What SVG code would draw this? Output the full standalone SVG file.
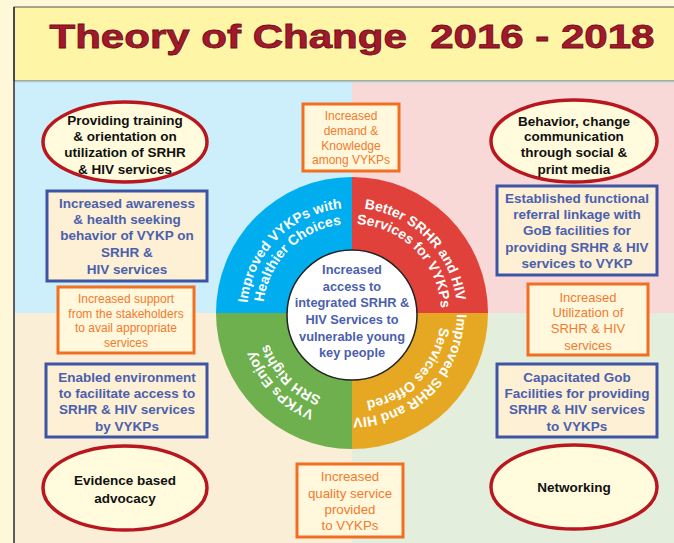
<svg xmlns="http://www.w3.org/2000/svg" width="674" height="543" viewBox="0 0 674 543">
<defs>
<style>
.ell{fill:#fffbdc;stroke:#b8171f;stroke-width:3.5}
.bbox{fill:#fdf0d4;stroke:#3e55a5;stroke-width:3}
.obox{fill:#fff8dc;stroke:#f26f21;stroke-width:3}
.tk{font-family:"Liberation Sans",Arial,sans-serif;font-weight:bold;font-size:13.5px;fill:#111;text-anchor:middle}
.tb{font-family:"Liberation Sans",Arial,sans-serif;font-weight:bold;font-size:13.5px;fill:#4b60ad;text-anchor:middle}
.to{font-family:"Liberation Sans",Arial,sans-serif;font-size:12px;fill:#f47a2e;text-anchor:middle}
.tw{font-family:"Liberation Sans",Arial,sans-serif;font-weight:bold;font-size:14px;fill:#fff;text-anchor:middle}
</style>
<path id="a1TL" d="M248.6,331.23 A105,105 0 0 1 370.23,209.6"/>
<path id="a2TL" d="M264.35,328.45 A89,89 0 0 1 367.45,225.35"/>
<path id="a1TR" d="M333.77,209.6 A105,105 0 0 1 455.4,331.23"/>
<path id="a2TR" d="M336.55,225.35 A89,89 0 0 1 439.65,328.45"/>
<path id="a1BR" d="M455.4,294.77 A105,105 0 0 1 333.77,416.4"/>
<path id="a2BR" d="M439.65,297.55 A89,89 0 0 1 336.55,400.65"/>
<path id="a1BL" d="M370.23,416.4 A105,105 0 0 1 248.6,294.77"/>
<path id="a2BL" d="M367.45,400.65 A89,89 0 0 1 264.35,297.55"/>
</defs>
<rect x="0" y="0" width="674" height="543" fill="#fef8d8"/>
<g id="background">
<rect x="14" y="7" width="670" height="74" fill="#fef5a6" stroke="#555" stroke-width="1"/>
<rect x="14" y="81" width="338" height="232" fill="#cdeefb"/>
<rect x="352" y="81" width="330" height="232" fill="#f9d8d8"/>
<rect x="14" y="313" width="338" height="240" fill="#faeed6"/>
<rect x="352" y="313" width="330" height="240" fill="#e3efdc"/>
<line x1="14" y1="81.5" x2="674" y2="81.5" stroke="#a9c7d3" stroke-width="1.5"/>
<line x1="14" y1="7" x2="14" y2="543" stroke="#2b2b3a" stroke-width="1.5"/>
</g>
<g id="title">
<text x="352" y="48" text-anchor="middle" textLength="605" lengthAdjust="spacingAndGlyphs" font-family="'Liberation Sans',Arial,sans-serif" font-weight="bold" font-size="33" fill="#a3192c" stroke="#6e0f1c" stroke-width="0.8" style="white-space:pre">Theory of Change  2016 - 2018</text>
</g>
<g id="wheel">
<path d="M352,313 L216,313 A136,136 0 0 1 352,177 Z" fill="#00adee"/>
<path d="M352,313 L352,177 A136,136 0 0 1 488,313 Z" fill="#e0413a"/>
<path d="M352,313 L488,313 A136,136 0 0 1 352,449 Z" fill="#e6a823"/>
<path d="M352,313 L352,449 A136,136 0 0 1 216,313 Z" fill="#6db04d"/>
<text class="tw"><textPath href="#a1TL" startOffset="50%">Improved VYKPs with</textPath></text>
<text class="tw"><textPath href="#a2TL" startOffset="50%">Healthier Choices</textPath></text>
<text class="tw"><textPath href="#a1TR" startOffset="50%">Better SRHR and HIV</textPath></text>
<text class="tw"><textPath href="#a2TR" startOffset="50%">Services for VYKPs</textPath></text>
<text class="tw"><textPath href="#a1BR" startOffset="50%">Improved SRHR and HIV</textPath></text>
<text class="tw"><textPath href="#a2BR" startOffset="50%">Services Offered</textPath></text>
<text class="tw"><textPath href="#a1BL" startOffset="50%">VYKPs Enjoy</textPath></text>
<text class="tw"><textPath href="#a2BL" startOffset="50%">SRH Rights</textPath></text>
</g>
<g id="center">
<circle cx="352" cy="315" r="65" fill="#fff" stroke="#222" stroke-width="1.5"/>
<text class="tb" style="font-size:12.8px"><tspan x="352" y="274">Increased</tspan><tspan x="352" y="291">access to</tspan><tspan x="352" y="307">integrated SRHR &amp;</tspan><tspan x="352" y="324">HIV Services to</tspan><tspan x="352" y="341">vulnerable young</tspan><tspan x="352" y="357">key people</tspan></text>
</g>
<g id="ellipse-training">
<ellipse class="ell" cx="125" cy="142" rx="82" ry="40"/>
<text class="tk"><tspan x="125" y="125">Providing training</tspan><tspan x="125" y="141">&amp; orientation on</tspan><tspan x="125" y="157">utilization of SRHR</tspan><tspan x="125" y="174">&amp; HIV services</tspan></text>
</g>
<g id="box-awareness">
<rect class="bbox" x="47" y="191" width="160" height="90"/>
<text class="tb"><tspan x="127" y="208">Increased awareness</tspan><tspan x="127" y="224">&amp; health seeking</tspan><tspan x="127" y="240">behavior of VYKP on</tspan><tspan x="127" y="257">SRHR &amp;</tspan><tspan x="127" y="274">HIV services</tspan></text>
</g>
<g id="box-support">
<rect class="obox" x="58" y="287" width="136" height="66"/>
<text class="to"><tspan x="126" y="303">Increased support</tspan><tspan x="126" y="318">from the stakeholders</tspan><tspan x="126" y="332">to avail appropriate</tspan><tspan x="126" y="347">services</tspan></text>
</g>
<g id="box-enabled">
<rect class="bbox" x="46" y="364" width="161" height="73"/>
<text class="tb"><tspan x="127" y="382">Enabled environment</tspan><tspan x="127" y="398">to facilitate access to</tspan><tspan x="127" y="414">SRHR &amp; HIV services</tspan><tspan x="127" y="431">by VYKPs</tspan></text>
</g>
<g id="ellipse-evidence">
<ellipse class="ell" cx="125" cy="488" rx="82" ry="42"/>
<text class="tk"><tspan x="125" y="485">Evidence based</tspan><tspan x="125" y="503">advocacy</tspan></text>
</g>
<g id="box-demand">
<rect class="obox" x="303" y="104" width="96" height="67"/>
<text class="to"><tspan x="351" y="120">Increased</tspan><tspan x="351" y="135">demand &amp;</tspan><tspan x="351" y="150">Knowledge</tspan><tspan x="351" y="164">among VYKPs</tspan></text>
</g>
<g id="ellipse-bcc">
<ellipse class="ell" cx="574" cy="141" rx="83" ry="41"/>
<text class="tk"><tspan x="574" y="126">Behavior, change</tspan><tspan x="574" y="141">communication</tspan><tspan x="574" y="157">through social &amp;</tspan><tspan x="574" y="174">print media</tspan></text>
</g>
<g id="box-referral">
<rect class="bbox" x="497" y="186" width="160" height="89"/>
<text class="tb"><tspan x="577" y="203">Established functional</tspan><tspan x="577" y="219">referral linkage with</tspan><tspan x="577" y="235">GoB facilities for</tspan><tspan x="577" y="252">providing SRHR &amp; HIV</tspan><tspan x="577" y="268">services to VYKP</tspan></text>
</g>
<g id="box-utilization">
<rect class="obox" x="528" y="284" width="120" height="71"/>
<text class="to" style="font-size:13px"><tspan x="588" y="302">Increased</tspan><tspan x="588" y="317">Utilization of</tspan><tspan x="588" y="333">SRHR &amp; HIV</tspan><tspan x="588" y="350">services</tspan></text>
</g>
<g id="box-capacitated">
<rect class="bbox" x="497" y="364" width="160" height="73"/>
<text class="tb"><tspan x="577" y="382">Capacitated Gob</tspan><tspan x="577" y="398">Facilities for providing</tspan><tspan x="577" y="414">SRHR &amp; HIV services</tspan><tspan x="577" y="431">to VYKPs</tspan></text>
</g>
<g id="ellipse-networking">
<ellipse class="ell" cx="574" cy="487" rx="83" ry="42"/>
<text class="tk" x="574" y="492">Networking</text>
</g>
<g id="box-quality">
<rect class="obox" x="297" y="464" width="106" height="73"/>
<text class="to" style="font-size:13.3px"><tspan x="350" y="481">Increased</tspan><tspan x="350" y="498">quality service</tspan><tspan x="350" y="514">provided</tspan><tspan x="350" y="530">to VYKPs</tspan></text>
</g>
<g id="connectors"/>
</svg>
